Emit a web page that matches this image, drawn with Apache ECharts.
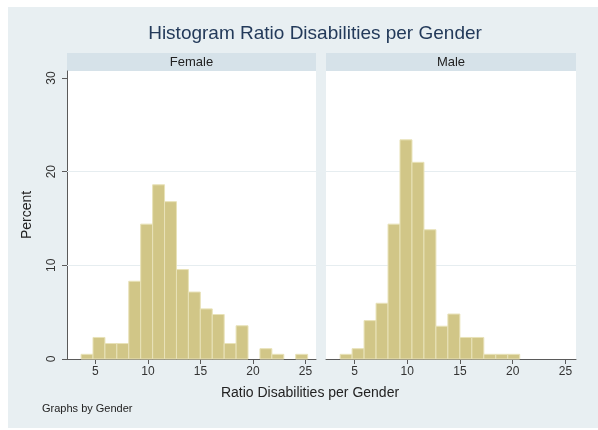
<!DOCTYPE html>
<html>
<head>
<meta charset="utf-8">
<script src="https://cdn.jsdelivr.net/npm/echarts@6/dist/echarts.min.js"></script>
<style>
  html, body { margin: 0; padding: 0; background: #ffffff; }
  #chart { width: 598px; height: 430px; }
</style>
</head>
<body>
<div id="chart"></div>
<script>
// Histogram bins: shared start and width for both panels
const binStart = 3.64;
const binWidth = 1.135;

// Percent of observations per bin
const femalePercent = [0.5, 2.3, 1.65, 1.65, 8.3, 14.4, 18.6, 16.8, 9.55, 7.15, 5.35, 4.75, 1.65, 3.55, 0, 1.1, 0.5, 0, 0.5];
const malePercent = [0.5, 1.1, 4.1, 5.95, 14.4, 23.4, 21.0, 13.8, 3.5, 4.8, 2.3, 2.3, 0.5, 0.5, 0.5];

const panelNames = ['Female', 'Male'];
const xTickValues = [5, 10, 15, 20, 25];
const yTickValues = [0, 10, 20, 30];
const gridValues = [10, 20];

const FONT = 'Liberation Sans, Arial, Helvetica, sans-serif';
const BAR_FILL = '#d1c687';
const BAR_EDGE = '#e8e2b8';
const AXIS_COLOR = '#5a5a5a';
const LABEL_COLOR = '#333333';

function binsFrom(values) {
  const rows = [];
  values.forEach((v, i) => {
    if (v > 0) rows.push([binStart + i * binWidth, binStart + (i + 1) * binWidth, v]);
  });
  return rows;
}

function renderBin(params, api) {
  const top = api.coord([api.value(0), api.value(2)]);
  const bottom = api.coord([api.value(1), 0]);
  return {
    type: 'rect',
    shape: { x: top[0], y: top[1], width: bottom[0] - top[0], height: bottom[1] - top[1] },
    style: { fill: BAR_FILL, stroke: BAR_EDGE, lineWidth: 1 }
  };
}

const grids = [
  { left: 67, top: 71, width: 249, height: 288 },
  { left: 326, top: 71, width: 250, height: 288 }
];

function xAxisFor(idx) {
  return {
    type: 'value', gridIndex: idx, min: 2.3, max: 26,
    axisLine: { show: true, lineStyle: { color: AXIS_COLOR, width: 1 } },
    axisTick: { show: true, customValues: xTickValues, length: 5, lineStyle: { color: AXIS_COLOR } },
    axisLabel: { customValues: xTickValues, color: LABEL_COLOR, fontFamily: FONT, fontSize: 12, margin: 7 },
    splitLine: { show: false }
  };
}

function yAxisFor(idx) {
  const shown = idx === 0;
  return {
    type: 'value', gridIndex: idx, min: 0, max: 30.75,
    axisLine: { show: shown, lineStyle: { color: AXIS_COLOR, width: 1 } },
    axisTick: { show: shown, customValues: yTickValues, length: 5, lineStyle: { color: AXIS_COLOR } },
    axisLabel: { show: shown, customValues: yTickValues, rotate: 90, color: LABEL_COLOR, fontFamily: FONT, fontSize: 12, margin: 9 },
    splitLine: { show: false },
    name: shown ? 'Percent' : '',
    nameLocation: 'middle', nameRotate: 90, nameGap: 33,
    nameTextStyle: { color: '#222', fontFamily: FONT, fontSize: 14 }
  };
}

// Horizontal reference lines, drawn beneath the bars
function gridLineSeries(idx) {
  return {
    type: 'line', xAxisIndex: idx, yAxisIndex: idx, data: [], z: 1,
    markLine: {
      silent: true, symbol: 'none', label: { show: false }, animation: false,
      lineStyle: { color: '#e6edf0', width: 1, type: 'solid' },
      data: gridValues.map(v => ({ yAxis: v }))
    }
  };
}

function seriesFor(idx, values) {
  return {
    type: 'custom', xAxisIndex: idx, yAxisIndex: idx,
    renderItem: renderBin,
    encode: { x: [0, 1], y: 2 },
    data: binsFrom(values),
    z: 5
  };
}

const stripGraphics = [];
grids.forEach((g, i) => {
  stripGraphics.push({
    type: 'rect', left: g.left, top: 53, z: -5,
    shape: { width: g.width, height: 18 },
    style: { fill: '#d6e2e9' }
  });
  stripGraphics.push({
    type: 'text', x: g.left + g.width / 2, y: 62, z: 2,
    style: { text: panelNames[i], fill: '#222', font: '13px ' + FONT, textAlign: 'center', textVerticalAlign: 'middle' }
  });
  stripGraphics.push({
    type: 'rect', left: g.left, top: g.top, z: -5,
    shape: { width: g.width, height: g.height },
    style: { fill: '#ffffff' }
  });
});

const chart = echarts.init(document.getElementById('chart'), null, { renderer: 'canvas' });
chart.setOption({
  backgroundColor: '#ffffff',
  animation: false,
  title: {
    text: 'Histogram Ratio Disabilities per Gender',
    left: 310, top: 19, textAlign: 'center',
    textStyle: { color: '#233a5a', fontFamily: FONT, fontSize: 19, fontWeight: 'normal' }
  },
  grid: grids,
  xAxis: [xAxisFor(0), xAxisFor(1)],
  yAxis: [yAxisFor(0), yAxisFor(1)],
  series: [gridLineSeries(0), gridLineSeries(1), seriesFor(0, femalePercent), seriesFor(1, malePercent)],
  graphic: [
    {
      type: 'rect', left: 8, top: 7, z: -10, silent: true,
      shape: { width: 590, height: 421 },
      style: { fill: '#e8eff2' }
    },
    ...stripGraphics,
    {
      type: 'text', x: 310, y: 393,
      style: { text: 'Ratio Disabilities per Gender', fill: '#222', font: '14px ' + FONT, textAlign: 'center', textVerticalAlign: 'middle' }
    },
    {
      type: 'text', x: 42, y: 409,
      style: { text: 'Graphs by Gender', fill: '#222', font: '11px ' + FONT, textAlign: 'left', textVerticalAlign: 'middle' }
    }
  ]
});
</script>
</body>
</html>
